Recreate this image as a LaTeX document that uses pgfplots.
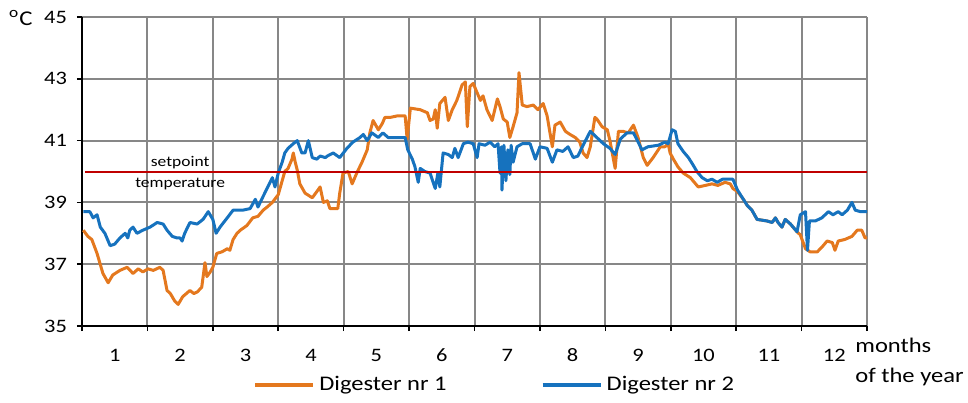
\documentclass[border=0pt]{standalone}
\usepackage{fontspec}
\setmainfont{Carlito}[FakeStretch=1.18]
\usepackage{pgfplots}
\pgfplotsset{compat=1.18}
\definecolor{dorange}{RGB}{228,120,30}
\definecolor{dblue}{RGB}{22,114,190}
\definecolor{dred}{RGB}{192,0,0}
\definecolor{gridgray}{RGB}{135,135,135}
\begin{document}
\begin{tikzpicture}
\path[use as bounding box] (-41pt,-38pt) rectangle (443pt,163pt);
\begin{axis}[
  at={(0,0)}, anchor=south west,
  scale only axis, width=392.5pt, height=154.5pt,
  xmin=0, xmax=12, ymin=35, ymax=45,
  axis lines*=left,
  axis line style={black, line width=0.8pt},
  xtick={0,1,...,12}, xticklabels={},
  ytick={35,37,...,45},
  grid=major,
  major grid style={gridgray, line width=1pt},
  tick align=outside,
  major tick length=2.5pt,
  tick style={black, line width=0.8pt},
  extra x ticks={0.5,1.5,...,11.5},
  extra x tick labels={1,2,3,4,5,6,7,8,9,10,11,12},
  extra x tick style={grid=none, major tick length=0pt,
     xticklabel style={anchor=center, yshift=-14.5pt}},
  /pgf/number format/assume math mode=true,
  tick label style={font=\fontsize{9.5}{11}\selectfont},
  yticklabel style={xshift=-1.5pt},
  legend columns=2,
  legend style={at={(0.527,-0.191)}, anchor=center, draw=none, fill=none,
     font=\fontsize{10.4}{12}\selectfont, inner sep=0pt,
     /tikz/every even column/.append style={column sep=45pt}},
  legend image code/.code={\draw[#1, line width=2pt] (0pt,0pt) -- (29pt,0pt);},
  legend cell align=left,
]
\addplot[dorange, line width=1.5pt, line join=round] coordinates {
(0.02,38.1) (0.09,37.9) (0.15,37.8) (0.23,37.35) (0.32,36.7) (0.40,36.4) (0.47,36.65)
(0.58,36.8) (0.69,36.9) (0.78,36.7) (0.86,36.85) (0.93,36.75) (1.01,36.85) (1.09,36.8)
(1.19,36.9) (1.24,36.8) (1.30,36.15) (1.35,36.05) (1.42,35.8) (1.47,35.7) (1.54,35.95)
(1.65,36.15) (1.71,36.05) (1.76,36.1) (1.83,36.25) (1.88,37.05) (1.91,36.6) (1.96,36.75)
(2.00,36.9) (2.06,37.35) (2.14,37.4) (2.22,37.5) (2.26,37.45) (2.31,37.8) (2.37,38.0)
(2.42,38.1) (2.52,38.25) (2.61,38.5) (2.69,38.55) (2.77,38.75) (2.83,38.85) (2.91,39.0)
(3.00,39.25) (3.06,39.7) (3.10,40.0) (3.15,40.1) (3.21,40.4) (3.23,40.6) (3.26,40.3)
(3.29,40.05) (3.33,39.6) (3.41,39.3) (3.52,39.15) (3.59,39.35) (3.64,39.5) (3.69,39.0)
(3.75,39.05) (3.79,38.8) (3.91,38.8) (3.94,39.3) (3.99,39.95) (4.07,40.0) (4.13,39.6)
(4.20,39.95) (4.28,40.3) (4.36,40.7) (4.40,41.25) (4.45,41.65) (4.53,41.35) (4.59,41.55)
(4.63,41.75) (4.71,41.75) (4.82,41.8) (4.94,41.8) (4.97,41.05) (5.02,42.05) (5.17,42.0)
(5.28,41.9) (5.32,41.65) (5.37,41.7) (5.40,42.0) (5.43,41.4) (5.47,42.2) (5.55,42.4)
(5.60,41.65) (5.66,42.0) (5.73,42.3) (5.81,42.8) (5.86,42.9) (5.89,41.45) (5.93,42.75)
(5.98,42.85) (6.04,42.55) (6.09,42.3) (6.13,42.45) (6.19,42.0) (6.27,41.65) (6.35,42.35)
(6.39,42.1) (6.44,41.7) (6.50,41.6) (6.54,41.1) (6.59,41.45) (6.65,41.9) (6.68,43.2)
(6.73,42.15) (6.80,42.1) (6.90,42.15) (6.97,42.0) (7.05,42.2) (7.11,41.8) (7.19,40.8)
(7.23,41.5) (7.31,41.6) (7.39,41.3) (7.46,41.2) (7.54,41.1) (7.61,40.95) (7.66,40.6)
(7.72,40.45) (7.77,40.8) (7.84,41.75) (7.87,41.7) (7.95,41.45) (8.03,41.35) (8.07,41.0)
(8.15,40.1) (8.20,41.3) (8.27,41.3) (8.35,41.25) (8.43,41.5) (8.50,41.1) (8.58,40.45)
(8.64,40.2) (8.73,40.45) (8.84,40.8) (8.91,40.8) (8.96,40.9) (8.99,40.6) (9.04,40.4)
(9.11,40.15) (9.19,39.95) (9.30,39.8) (9.42,39.5) (9.53,39.55) (9.63,39.6) (9.72,39.55)
(9.83,39.65) (9.91,39.6) (9.95,39.45) (10.02,39.35) (10.11,39.1) (10.17,38.9) (10.24,38.75)
(10.32,38.45) (10.47,38.4) (10.55,38.35) (10.60,38.5) (10.64,38.35) (10.70,38.2) (10.75,38.45)
(10.83,38.3) (10.93,38.05) (10.98,37.95) (11.06,37.5) (11.13,37.4) (11.24,37.4) (11.31,37.55)
(11.39,37.75) (11.47,37.7) (11.51,37.45) (11.56,37.75) (11.66,37.8) (11.77,37.9) (11.85,38.1)
(11.92,38.1) (11.97,37.85) (12.00,37.85)
};
\addlegendentry{Digester nr 1}
\addplot[dblue, line width=1.5pt, line join=round] coordinates {
(0.02,38.7) (0.12,38.7) (0.17,38.5) (0.23,38.6) (0.28,38.2) (0.35,38.0) (0.43,37.6)
(0.50,37.65) (0.58,37.85) (0.66,38.0) (0.70,37.85) (0.73,38.1) (0.78,38.2) (0.84,38.0)
(0.93,38.1) (1.04,38.2) (1.15,38.35) (1.24,38.3) (1.30,38.1) (1.38,37.9) (1.45,37.85)
(1.50,37.85) (1.53,37.75) (1.57,38.0) (1.65,38.35) (1.76,38.3) (1.85,38.45) (1.93,38.7)
(2.00,38.45) (2.05,38.0) (2.11,38.2) (2.22,38.5) (2.31,38.75) (2.46,38.75) (2.57,38.8)
(2.65,39.1) (2.69,38.85) (2.77,39.2) (2.84,39.5) (2.91,39.8) (2.95,39.5) (3.00,39.95)
(3.06,40.3) (3.10,40.6) (3.15,40.75) (3.23,40.9) (3.29,41.0) (3.36,40.6) (3.41,40.6)
(3.46,41.0) (3.52,40.45) (3.59,40.4) (3.64,40.5) (3.72,40.45) (3.75,40.5) (3.84,40.6)
(3.94,40.45) (4.05,40.75) (4.14,40.95) (4.25,41.1) (4.30,41.2) (4.36,41.0) (4.43,41.25)
(4.53,41.1) (4.60,41.25) (4.68,41.1) (4.82,41.1) (4.94,41.1) (4.98,40.7) (5.05,40.4)
(5.09,40.15) (5.14,39.65) (5.17,40.1) (5.24,40.0) (5.32,39.95) (5.40,39.45) (5.44,39.95)
(5.47,39.5) (5.52,40.6) (5.60,40.55) (5.66,40.45) (5.70,40.75) (5.75,40.45) (5.83,40.9)
(5.90,40.95) (5.98,40.9) (6.04,40.45) (6.07,40.9) (6.16,40.85) (6.24,40.95) (6.31,40.8)
(6.36,40.9) (6.39,39.95) (6.41,40.8) (6.42,39.4) (6.45,40.85) (6.48,39.7) (6.51,40.7)
(6.54,39.9) (6.56,40.85) (6.59,40.3) (6.65,40.8) (6.73,40.9) (6.85,40.9) (6.93,40.4)
(7.00,40.8) (7.11,40.75) (7.19,40.3) (7.26,40.7) (7.35,40.65) (7.43,40.8) (7.51,40.45)
(7.58,40.5) (7.66,40.85) (7.77,41.3) (7.87,41.1) (7.97,40.9) (8.07,40.75) (8.15,40.55)
(8.23,41.05) (8.33,41.25) (8.43,41.25) (8.49,41.0) (8.56,40.7) (8.65,40.8) (8.81,40.85)
(8.91,40.95) (8.96,40.9) (9.02,41.35) (9.07,41.3) (9.11,40.9) (9.19,40.65) (9.27,40.45)
(9.33,40.25) (9.40,40.0) (9.48,39.8) (9.56,39.7) (9.63,39.75) (9.71,39.65) (9.79,39.75)
(9.88,39.75) (9.95,39.75) (10.02,39.4) (10.11,39.1) (10.17,38.9) (10.24,38.75) (10.32,38.45)
(10.47,38.4) (10.55,38.35) (10.60,38.5) (10.64,38.35) (10.70,38.2) (10.75,38.45) (10.83,38.3)
(10.93,38.05) (10.98,38.6) (11.02,38.65) (11.06,38.7) (11.09,37.45) (11.12,38.4) (11.21,38.4)
(11.31,38.5) (11.41,38.7) (11.48,38.6) (11.56,38.7) (11.62,38.6) (11.70,38.75) (11.77,39.0)
(11.82,38.75) (11.90,38.7) (12.00,38.7)
};
\addlegendentry{Digester nr 2}
\addplot[dred, line width=1pt, forget plot] coordinates {(0.05,40) (12,40)};
\node[font=\fontsize{7.4}{8}\selectfont] at (axis cs:1.5,40.28) {setpoint};
\node[font=\fontsize{7.4}{8}\selectfont] at (axis cs:1.5,39.6) {temperature};
\end{axis}
\node[anchor=east, inner sep=0pt, font=\fontsize{10.5}{12}\selectfont] at ([xshift=-24.5pt,yshift=-0.5pt]current axis.north west) {\textsuperscript{o}C};
\node[anchor=base west, inner sep=0pt, font=\fontsize{10.4}{12}\selectfont] at ([xshift=-6pt,yshift=-13pt]current axis.south east) {months};
\node[anchor=base west, inner sep=0pt, font=\fontsize{10.4}{12}\selectfont] at ([xshift=-6pt,yshift=-28pt]current axis.south east) {of the year};
\end{tikzpicture}
\end{document}
